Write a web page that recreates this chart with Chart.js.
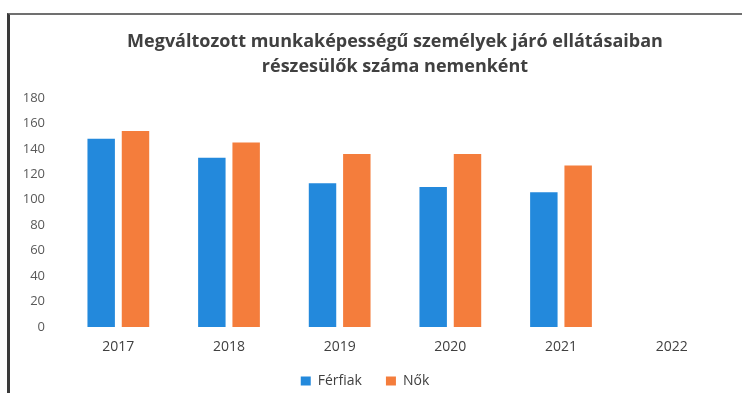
<!DOCTYPE html>
<html>
<head>
<meta charset="utf-8">
<script src="https://cdn.jsdelivr.net/npm/chart.js@4"></script>
<style>
  html, body { margin: 0; padding: 0; background: #fff; overflow: hidden; width: 742px; height: 393px; }
  #wrap { position: absolute; left: 0; top: 0; width: 742px; height: 405px; }
  #frame {
    position: absolute; left: 7px; top: 13px; width: 735px; height: 380px;
    border-left: 3px solid #3a3a3a; border-top: 2px solid #707070;
    box-sizing: border-box; pointer-events: none;
  }
</style>
</head>
<body>
<div id="wrap"><canvas id="myBar"></canvas></div>
<div id="frame"></div>
<script>
const years = ['2017', '2018', '2019', '2020', '2021', '2022'];
const ferfiak = [148, 133, 113, 110, 106, null];
const nok = [154, 145, 136, 136, 127, null];
const yTicks = [0, 20, 40, 60, 80, 100, 120, 140, 160, 180];

const fontName = '"Open Sans", Lato, sans-serif';

// tick labels are allowed to run outside their axis box
function noLabelClip(axis) {
  axis._computeLabelArea = () => undefined;
}

const ctx = document.getElementById('myBar').getContext('2d');
const myBar = new Chart(ctx, {
  type: 'bar',
  data: {
    labels: years,
    datasets: [
      { label: 'Férfiak', data: ferfiak, backgroundColor: '#2389dc' },
      { label: 'Nők', data: nok, backgroundColor: '#f47d3c' }
    ]
  },
  options: {
    responsive: true,
    maintainAspectRatio: false,
    animation: false,
    categoryPercentage: 0.62,
    barPercentage: 0.8,
    layout: { padding: { left: 3, right: 15, top: 0, bottom: 7 } },
    plugins: {
      title: {
        display: true,
        fullSize: false,
        text: ['Megváltozott munkaképességű személyek járó ellátásaiban', 'részesülők száma nemenként'],
        color: '#404040',
        font: { family: fontName, size: 18, weight: 'bold', lineHeight: '25px' },
        padding: { top: 29, bottom: 19 }
      },
      legend: {
        position: 'bottom',
        labels: {
          color: '#404040',
          font: { family: fontName, size: 14 },
          boxWidth: 10, boxHeight: 9, padding: 24
        }
      },
      tooltip: { enabled: false }
    },
    scales: {
      x: {
        grid: { display: false },
        border: { display: false },
        ticks: { color: '#404040', font: { family: fontName, size: 14 }, padding: 4 },
        afterFit: axis => { axis.height = 23; noLabelClip(axis); }
      },
      y: {
        min: 0, max: 180,
        grid: { display: false },
        border: { display: false },
        afterBuildTicks: axis => { axis.ticks = yTicks.map(v => ({ value: v })); },
        ticks: { color: '#595959', font: { family: fontName, size: 13 }, padding: 10 },
        afterFit: axis => { axis.width = 60; noLabelClip(axis); }
      }
    }
  }
});
</script>
</body>
</html>
